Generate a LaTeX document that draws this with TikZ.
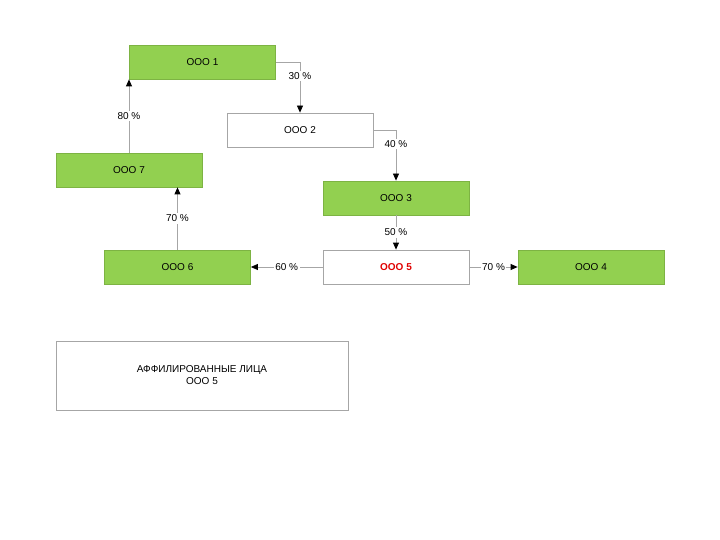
\documentclass[tikz,border=0pt]{standalone}
\usepackage{fontspec}
\setmainfont{Liberation Sans}
\usepackage{xcolor}
\usepackage{tikz}
\usetikzlibrary{arrows.meta,positioning}
\definecolor{firmgreen}{HTML}{92D050}
\definecolor{firmedge}{HTML}{7DB343}
\definecolor{linkgray}{HTML}{A6A6A6}
\definecolor{targetred}{HTML}{E00000}

\begin{document}
\begin{tikzpicture}[x=1pt,y=-1pt,
   firm/.style={draw=linkgray, line width=0.8pt, minimum width=146pt, minimum height=34pt,
     inner sep=0pt, font=\fontsize{10}{12}\selectfont},
   owned/.style={firm, fill=firmgreen, draw=firmedge},
   share/.style={draw=linkgray, line width=0.8pt, -{Triangle[length=7pt,width=6pt,color=black]}},
   pct/.style={fill=white, inner sep=1.5pt, font=\fontsize{10}{12}\selectfont}]
\useasboundingbox (0,0) rectangle (720,540);
% companies (1 = green box)
\foreach \nm/\x/\y/\lab/\hot in {%
   c1/202.5/62/{ООО 1}/1,
   c2/300/130/{ООО 2}/0,
   c7/129/170/{ООО 7}/1,
   c3/396/198/{ООО 3}/1,
   c6/177.5/267/{ООО 6}/1,
   c4/591/267/{ООО 4}/1}{
   \ifnum\hot=1
     \node[owned] (\nm) at (\x,\y) {\lab};
   \else
     \node[firm, fill=white] (\nm) at (\x,\y) {\lab};
   \fi
}
% the company in question
\node[firm, fill=white, text=targetred, font=\fontsize{10}{12}\selectfont\bfseries] (c5) at (396,267) {ООО 5};
% ownership links
\draw[share] (c1.east) -| node[pct, pos=0.64] {30 \%} (c2.north);
\draw[share] (c2.east) -| node[pct, pos=0.64] {40 \%} (c3.north);
\draw[share] (c3.south) -- node[pct] {50 \%} (c5.north);
\draw[share] (c5.west) -- node[pct] {60 \%} (c6.east);
\draw[share] (c5.east) -- node[pct] {70 \%} (c4.west);
\draw[share] (c6.north) -- node[pct] {70 \%} (c6.north |- c7.south);
\draw[share] (c7.north) -- node[pct] {80 \%} (c7.north |- c1.south);
% legend box
\node[firm, minimum width=292pt, minimum height=69pt, align=center] (aff) at (202,375.5)
   {АФФИЛИРОВАННЫЕ ЛИЦА\\ООО 5};
\end{tikzpicture}
\end{document}
